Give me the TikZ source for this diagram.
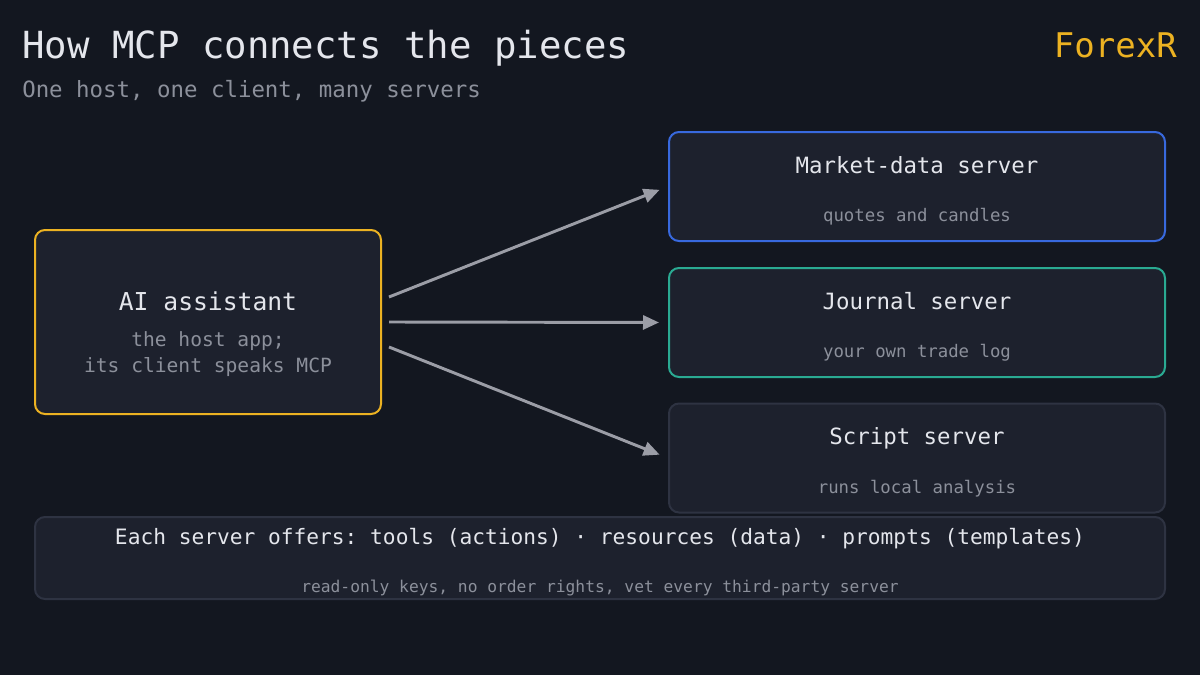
\documentclass[tikz,border=0pt]{standalone}
\usepackage{fontspec}
\setmonofont{DejaVu Sans Mono}
\usepackage{tikz}
\usetikzlibrary{arrows.meta,positioning}
\definecolor{bgdark}{RGB}{19,23,32}
\definecolor{boxfill}{RGB}{29,33,45}
\definecolor{boxdim}{RGB}{46,51,66}
\definecolor{hostamber}{RGB}{236,178,34}
\definecolor{srvblue}{RGB}{56,105,222}
\definecolor{srvteal}{RGB}{42,170,146}
\definecolor{txtmain}{RGB}{228,230,236}
\definecolor{txtsub}{RGB}{140,144,155}
\definecolor{linkgray}{RGB}{155,157,166}
\tikzset{
  pbox/.style={rectangle, rounded corners=7.5pt, fill=boxfill, line width=1.5pt,
               inner sep=0pt},
  hostbox/.style={pbox, draw=hostamber, minimum width=259.5pt, minimum height=138pt},
  srvbox/.style ={pbox, minimum width=372pt, minimum height=81.75pt},
  notebox/.style={pbox, draw=boxdim, minimum width=847.5pt, minimum height=61.5pt},
  headtxt/.style={anchor=base, text=txtmain, font=\ttfamily\fontsize{16.8}{20}\selectfont},
  subtxt/.style ={anchor=base, text=txtsub, font=\ttfamily\fontsize{13}{16}\selectfont},
  link/.style={-{Triangle[length=12pt,width=10.5pt]}, line width=2.2pt, linkgray},
}
\begin{document}
\begin{tikzpicture}[x=0.75pt, y=-0.75pt]
  \fill[bgdark] (0,0) rectangle (1200,675);
  \useasboundingbox (0,0) rectangle (1200,675);
  % titles
  \node[anchor=base west, inner sep=0pt, text=txtmain,
        font=\ttfamily\fontsize{28}{32}\selectfont] (title) at (22,58) {How MCP connects the pieces};
  \node[anchor=base west, inner sep=0pt, text=txtsub,
        font=\ttfamily\fontsize{16.8}{20}\selectfont] (subtitle) at (22,97) {One host, one client, many servers};
  \node[anchor=base east, inner sep=0pt, text=hostamber,
        font=\ttfamily\fontsize{25.5}{30}\selectfont] (brand) at (1177,57) {ForexR};
  % host
  \node[hostbox] (host) at (208,322) {};
  \node[headtxt, font=\ttfamily\fontsize{18.5}{22}\selectfont] (hostname) at (208,310) {AI assistant};
  \node[subtxt, font=\ttfamily\fontsize{14.7}{18}\selectfont] (hostsubA) at (208,346) {the host app;};
  \node[subtxt, font=\ttfamily\fontsize{14.7}{18}\selectfont] (hostsubB) at (208,372) {its client speaks MCP};
  % servers
  \node[srvbox, draw=srvblue] (market)  at (917,186.5) {};
  \node[srvbox, draw=srvteal] (journal) at (917,322.5) {};
  \node[srvbox, draw=boxdim]  (script)  at (917,458)   {};
  \node[headtxt] (marketname)  at (917,173) {Market-data server};
  \node[subtxt]  (marketsub)   at (917,221) {quotes and candles};
  \node[headtxt] (journalname) at (917,309) {Journal server};
  \node[subtxt]  (journalsub)  at (917,357) {your own trade log};
  \node[headtxt] (scriptname)  at (917,444) {Script server};
  \node[subtxt]  (scriptsub)   at (917,493) {runs local analysis};
  % links
  \draw[link, shorten >=6.75pt] ([xshift=5.25pt, yshift=18.75pt]host.east) -- (market.west);
  \draw[link, shorten >=6.75pt] ([xshift=5.25pt]host.east) -- (journal.west);
  \draw[link, shorten >=6.75pt] ([xshift=5.25pt, yshift=-18.75pt]host.east) -- (script.west);
  % bottom note
  \node[notebox] (note) at (600,558) {};
  \node[headtxt, font=\ttfamily\fontsize{15.9}{19}\selectfont] (notehead) at (600,544)
    {Each server offers: tools (actions) · resources (data) · prompts (templates)};
  \node[subtxt, font=\ttfamily\fontsize{12.2}{15}\selectfont] (notesub) at (600,592)
    {read-only keys, no order rights, vet every third-party server};
\end{tikzpicture}
\end{document}
